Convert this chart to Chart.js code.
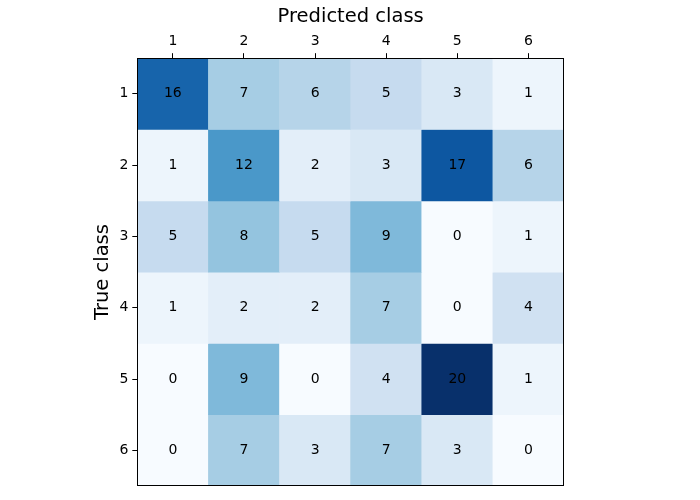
<!DOCTYPE html>
<html lang="en">
<head>
  <meta charset="UTF-8" />
  <title>Confusion matrix</title>
  <script src="https://cdn.jsdelivr.net/npm/chart.js"></script>
  <style>
    html, body { margin:0; padding:0; background:#fff; }
    #wrap { width:700px; height:500px; }
  </style>
</head>
<body>
<div id="wrap"><canvas id="cm"></canvas></div>

<script>
  // ---- data ----
  const predictedLabels = ['1', '2', '3', '4', '5', '6'];
  const trueLabels = [1, 2, 3, 4, 5, 6];
  const row1 = [16, 7, 6, 5, 3, 1];
  const row2 = [1, 12, 2, 3, 17, 6];
  const row3 = [5, 8, 5, 9, 0, 1];
  const row4 = [1, 2, 2, 7, 0, 4];
  const row5 = [0, 9, 0, 4, 20, 1];
  const row6 = [0, 7, 3, 7, 3, 0];
  const rows = [row1, row2, row3, row4, row5, row6];

  // matplotlib "Blues"
  const blues = ['#f7fbff','#deebf7','#c6dbef','#9ecae1','#6baed6','#4292c6','#2171b5','#08519c','#08306b'];
  const vmax = Math.max(...rows.flat());

  function hex(c) { return [1,3,5].map(i => parseInt(c.substr(i,2),16)); }
  function blue(v) {
    const t = Math.min(Math.max(v / vmax, 0), 1) * (blues.length - 1);
    const i = Math.min(Math.floor(t), blues.length - 2);
    const f = t - i;
    const a = hex(blues[i]), b = hex(blues[i+1]);
    const c = a.map((x, k) => Math.round(x + (b[k] - x) * f));
    return 'rgb(' + c.join(',') + ')';
  }

  const FONT = 'DejaVu Sans';

  // one floating-bar dataset per true class row
  const datasets = rows.map((vals, r) => ({
    label: 'True ' + trueLabels[r],
    data: vals.map(() => [trueLabels[r] - 0.5, trueLabels[r] + 0.5]),
    counts: vals,
    backgroundColor: vals.map(blue),
    borderWidth: 0,
    barPercentage: 1,
    categoryPercentage: 1
  }));

  // cell labels + black frame
  const cellText = {
    id: 'cellText',
    afterDatasetsDraw(chart) {
      const ctx = chart.ctx;
      ctx.save();
      ctx.font = '14px "' + FONT + '"';
      ctx.fillStyle = '#000';
      ctx.textAlign = 'center';
      ctx.textBaseline = 'middle';
      chart.data.datasets.forEach((ds, di) => {
        chart.getDatasetMeta(di).data.forEach((bar, i) => {
          const p = bar.getProps(['x', 'y', 'base'], true);
          ctx.fillText(String(ds.counts[i]), p.x, (p.y + p.base) / 2);
        });
      });
      const a = chart.chartArea;
      ctx.strokeStyle = '#000';
      ctx.lineWidth = 1;
      ctx.strokeRect(Math.round(a.left) + 0.5, Math.round(a.top) + 0.5,
                     Math.round(a.right - a.left) - 1, Math.round(a.bottom - a.top) - 1);
      ctx.restore();
    }
  };

  new Chart(document.getElementById('cm'), {
    type: 'bar',
    data: { labels: predictedLabels, datasets: datasets },
    plugins: [cellText],
    options: {
      responsive: true,
      maintainAspectRatio: false,
      animation: false,
      layout: { padding: { left: 91, right: 136, top: 5, bottom: 14 } },
      plugins: { legend: { display: false }, tooltip: { enabled: false } },
      scales: {
        x: {
          position: 'top',
          stacked: true,
          offset: true,
          border: { display: false },
          grid: { offset: false, drawOnChartArea: false, color: '#000', tickLength: 5, tickWidth: 1 },
          ticks: { color: '#000', font: { family: FONT, size: 14 }, padding: 3, maxRotation: 0 },
          title: { display: true, text: 'Predicted class', color: '#000', font: { family: FONT, size: 19.5 }, padding: { top: 0, bottom: 2 } }
        },
        y: {
          stacked: false,
          reverse: true,
          min: 0.5,
          max: 6.5,
          afterBuildTicks(axis) { axis.ticks = trueLabels.map(v => ({ value: v })); },
          border: { display: false },
          grid: { drawOnChartArea: false, color: '#000', tickLength: 5, tickWidth: 1 },
          ticks: { color: '#000', font: { family: FONT, size: 14 }, padding: 4 },
          title: { display: true, text: 'True class', color: '#000', font: { family: FONT, size: 19.5 }, padding: { top: 0, bottom: 1 } }
        }
      }
    }
  });
</script>
</body>
</html>
